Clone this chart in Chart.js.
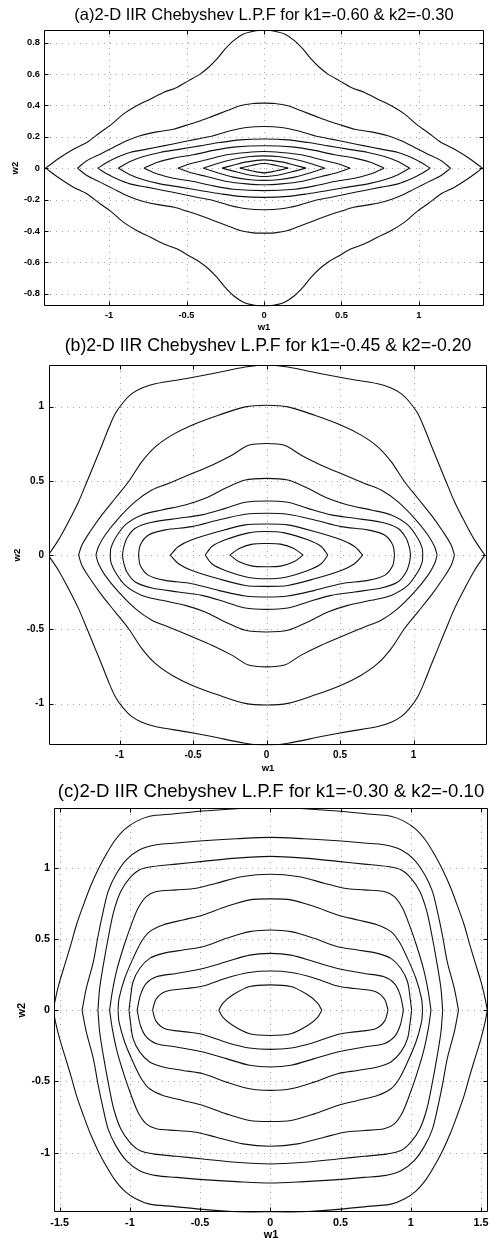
<!DOCTYPE html>
<html>
<head>
<meta charset="utf-8">
<script src="https://cdn.jsdelivr.net/npm/chart.js@4.4.1/dist/chart.umd.min.js"></script>
<style>
  html, body { margin: 0; padding: 0; background: #fff; }
  body { width: 490px; height: 1243px; position: relative; overflow: hidden; }
  canvas { position: absolute; left: 0; }
</style>
</head>
<body>
<canvas id="plotA"></canvas>
<canvas id="plotB"></canvas>
<canvas id="plotC"></canvas>
<script>
// ─── Data ──────────────────────────────────────────────────────────────────────
// Each contour is stored as its upper-left quadrant, from the w1 crossing (-a, 0)
// up to the w2 crossing (0, b). The filter response is symmetric in w1 and w2,
// so the other three quadrants are reflections of these points.

const titleA = '(a)2-D IIR Chebyshev L.P.F for k1=-0.60 & k2=-0.30';
const xRangeA = [-1.42, 1.42];
const yRangeA = [-0.88, 0.88];
const xTicksA = [-1, -0.5, 0, 0.5, 1];
const xTickLabelsA = ['-1', '-0.5', '0', '0.5', '1'];
const yTicksA = [-0.8, -0.6, -0.4, -0.2, 0, 0.2, 0.4, 0.6, 0.8];
const yTickLabelsA = ['-0.8', '-0.6', '-0.4', '-0.2', '0', '0.2', '0.4', '0.6', '0.8'];
const contoursA = [
  [[-1.41,0],[-1.316,0.068],[-1.23,0.121],[-1.144,0.163],[-1.058,0.227],[-0.983,0.28],[-0.908,0.344],[-0.822,0.397],[-0.735,0.439],[-0.649,0.482],[-0.563,0.514],[-0.488,0.556],[-0.413,0.599],[-0.359,0.641],[-0.305,0.694],[-0.252,0.758],[-0.198,0.811],[-0.133,0.854],[-0.069,0.872],[0,0.88]],
  [[-1.204,0],[-1.144,0.047],[-1.058,0.089],[-0.972,0.132],[-0.886,0.174],[-0.8,0.206],[-0.692,0.231],[-0.585,0.248],[-0.499,0.274],[-0.413,0.301],[-0.327,0.333],[-0.241,0.365],[-0.155,0.397],[-0.069,0.412],[0,0.414]],
  [[-1.073,0],[-1.015,0.036],[-0.951,0.068],[-0.865,0.1],[-0.757,0.121],[-0.649,0.142],[-0.542,0.163],[-0.434,0.185],[-0.327,0.206],[-0.219,0.238],[-0.112,0.259],[0,0.265]],
  [[-0.94,0],[-0.865,0.042],[-0.778,0.074],[-0.671,0.1],[-0.542,0.121],[-0.413,0.142],[-0.284,0.163],[-0.155,0.18],[0,0.186]],
  [[-0.775,0],[-0.692,0.036],[-0.585,0.064],[-0.456,0.085],[-0.327,0.113],[-0.198,0.134],[0,0.143]],
  [[-0.555,0],[-0.477,0.028],[-0.37,0.053],[-0.241,0.085],[-0.112,0.1],[0,0.106]],
  [[-0.392,0],[-0.305,0.028],[-0.198,0.057],[-0.09,0.074],[0,0.078]],
  [[-0.27,0],[-0.198,0.019],[-0.112,0.04],[0,0.053]],
  [[-0.156,0],[-0.08,0.017],[0,0.03]]
];

const titleB = '(b)2-D IIR Chebyshev L.P.F for k1=-0.45 & k2=-0.20';
const xRangeB = [-1.48, 1.5];
const yRangeB = [-1.28, 1.28];
const xTicksB = [-1, -0.5, 0, 0.5, 1];
const xTickLabelsB = ['-1', '-0.5', '0', '0.5', '1'];
const yTicksB = [-1, -0.5, 0, 0.5, 1];
const yTickLabelsB = ['-1', '-0.5', '0', '0.5', '1'];
const contoursB = [
  [[-1.485,0],[-1.415,0.103],[-1.347,0.226],[-1.279,0.36],[-1.222,0.494],[-1.166,0.629],[-1.12,0.74],[-1.075,0.852],[-1.029,0.953],[-0.973,1.031],[-0.916,1.087],[-0.848,1.125],[-0.757,1.154],[-0.553,1.188],[-0.372,1.221],[-0.145,1.266],[0,1.28]],
  [[-1.279,0],[-1.256,0.069],[-1.2,0.159],[-1.12,0.271],[-1.029,0.383],[-0.939,0.494],[-0.848,0.629],[-0.757,0.729],[-0.644,0.808],[-0.508,0.875],[-0.327,0.942],[-0.145,0.998],[0,1.009]],
  [[-1.161,0],[-1.143,0.058],[-1.098,0.136],[-1.007,0.248],[-0.893,0.36],[-0.78,0.438],[-0.667,0.483],[-0.531,0.539],[-0.372,0.606],[-0.236,0.673],[-0.122,0.74],[0,0.752]],
  [[-1.063,0],[-1.059,0.047],[-1.029,0.114],[-0.961,0.204],[-0.848,0.271],[-0.712,0.304],[-0.553,0.338],[-0.417,0.383],[-0.281,0.45],[-0.145,0.506],[0,0.517]],
  [[-0.98,0],[-0.973,0.047],[-0.95,0.114],[-0.893,0.181],[-0.78,0.221],[-0.599,0.248],[-0.44,0.271],[-0.281,0.315],[-0.145,0.356],[0,0.365]],
  [[-0.871,0],[-0.859,0.069],[-0.803,0.136],[-0.689,0.17],[-0.508,0.192],[-0.327,0.237],[-0.145,0.275],[0,0.282]],
  [[-0.655,0],[-0.599,0.058],[-0.508,0.103],[-0.327,0.159],[-0.145,0.204],[0,0.21]],
  [[-0.417,0],[-0.372,0.058],[-0.281,0.103],[-0.122,0.15],[0,0.159]],
  [[-0.249,0],[-0.186,0.045],[-0.095,0.074],[0,0.078]]
];

const titleC = '(c)2-D IIR Chebyshev L.P.F for k1=-0.30 & k2=-0.10';
const xRangeC = [-1.54, 1.55];
const yRangeC = [-1.42, 1.42];
const xTicksC = [-1.5, -1, -0.5, 0, 0.5, 1, 1.5];
const xTickLabelsC = ['-1.5', '-1', '-0.5', '0', '0.5', '1', '1.5'];
const yTicksC = [-1, -0.5, 0, 0.5, 1];
const yTickLabelsC = ['-1', '-0.5', '0', '0.5', '1'];
const contoursC = [
  [[-1.545,0],[-1.53,0.08],[-1.5,0.2],[-1.46,0.33],[-1.42,0.46],[-1.38,0.6],[-1.33,0.74],[-1.28,0.87],[-1.225,0.99],[-1.165,1.1],[-1.108,1.19],[-1.037,1.27],[-0.954,1.326],[-0.859,1.362],[-0.693,1.378],[-0.503,1.397],[-0.242,1.415],[0,1.425]],
  [[-1.34,0],[-1.31,0.153],[-1.26,0.34],[-1.225,0.528],[-1.19,0.692],[-1.155,0.833],[-1.1,0.951],[-1.025,1.056],[-0.93,1.127],[-0.811,1.162],[-0.669,1.174],[-0.479,1.19],[-0.242,1.204],[0,1.214]],
  [[-1.227,0],[-1.215,0.153],[-1.185,0.34],[-1.15,0.528],[-1.115,0.692],[-1.065,0.833],[-1.001,0.927],[-0.93,0.986],[-0.835,1.009],[-0.669,1.026],[-0.479,1.045],[-0.242,1.068],[0,1.08]],
  [[-1.144,0],[-1.125,0.129],[-1.09,0.293],[-1.04,0.458],[-0.99,0.599],[-0.942,0.716],[-0.883,0.798],[-0.811,0.833],[-0.669,0.845],[-0.527,0.857],[-0.384,0.892],[-0.195,0.939],[0,0.955]],
  [[-1.084,0],[-1.077,0.082],[-1.037,0.223],[-0.977,0.364],[-0.918,0.481],[-0.859,0.552],[-0.764,0.599],[-0.622,0.634],[-0.479,0.669],[-0.313,0.728],[-0.147,0.775],[0,0.782]],
  [[-1.006,0],[-0.996,0.082],[-0.977,0.2],[-0.93,0.293],[-0.859,0.364],[-0.764,0.399],[-0.622,0.423],[-0.479,0.446],[-0.313,0.505],[-0.147,0.552],[0,0.563]],
  [[-0.948,0],[-0.925,0.106],[-0.883,0.188],[-0.811,0.235],[-0.669,0.258],[-0.479,0.293],[-0.313,0.34],[-0.147,0.387],[0,0.399]],
  [[-0.838,0],[-0.815,0.075],[-0.75,0.13],[-0.6,0.152],[-0.48,0.17],[-0.3,0.23],[-0.15,0.265],[0,0.275]],
  [[-0.367,0],[-0.337,0.05],[-0.266,0.108],[-0.147,0.166],[0,0.178]]
];

// ─── Layout (page pixels) ──────────────────────────────────────────────────────
const FONT = 'Arial, "Liberation Sans", Helvetica, sans-serif';

const panels = [
  { id: 'plotA', title: titleA, xRange: xRangeA, yRange: yRangeA,
    xTicks: xTicksA, xTickLabels: xTickLabelsA, yTicks: yTicksA, yTickLabels: yTickLabelsA, contours: contoursA,
    left: 44, right: 484, top: 30, bottom: 306, titleY: 16, titleSize: 16.5,
    tickSize: 9.3, labelSize: 9.5, xTickPad: 3.5, yTickPad: 4, xLabelY: 327, yLabelX: 15 },
  { id: 'plotB', title: titleB, xRange: xRangeB, yRange: yRangeB,
    xTicks: xTicksB, xTickLabels: xTickLabelsB, yTicks: yTicksB, yTickLabels: yTickLabelsB, contours: contoursB,
    left: 49, right: 487, top: 365, bottom: 745, titleY: 346, titleSize: 17.7,
    tickSize: 10, labelSize: 9.5, xTickPad: 4, yTickPad: 5, xLabelY: 768, yLabelX: 17 },
  { id: 'plotC', title: titleC, xRange: xRangeC, yRange: yRangeC,
    xTicks: xTicksC, xTickLabels: xTickLabelsC, yTicks: yTicksC, yTickLabels: yTickLabelsC, contours: contoursC,
    left: 54, right: 488, top: 808, bottom: 1212, titleY: 792, titleSize: 18.6,
    tickSize: 10.8, labelSize: 11, xTickPad: 4.5, yTickPad: 4, xLabelY: 1235, yLabelX: 22 }
];

// ─── Helpers ───────────────────────────────────────────────────────────────────
// upper half = quadrant + its reflection in w1; lower half = reflection in w2
function halves(q) {
  const upper = q.concat(q.slice(0, -1).reverse().map(([x, y]) => [-x, y]));
  const lower = upper.map(([x, y]) => [x, -y]);
  return [upper, lower];
}

// dotted grid under the contours, box and inward ticks on top (MATLAB style)
const frame = {
  id: 'frame',
  beforeDatasetsDraw(chart) {
    const { ctx, chartArea: a, scales: { x, y } } = chart;
    ctx.save();
    ctx.strokeStyle = '#a4a4a4';
    ctx.lineWidth = 1;
    ctx.setLineDash([1, 5]);
    ctx.beginPath();
    x.ticks.forEach(t => {
      const px = Math.round(x.getPixelForValue(t.value)) + 0.5;
      ctx.moveTo(px, a.top); ctx.lineTo(px, a.bottom);
    });
    y.ticks.forEach(t => {
      const py = Math.round(y.getPixelForValue(t.value)) + 0.5;
      ctx.moveTo(a.left, py); ctx.lineTo(a.right, py);
    });
    ctx.stroke();
    ctx.restore();
  },
  afterDatasetsDraw(chart) {
    const { ctx, chartArea: a, scales: { x, y } } = chart;
    const l = Math.round(a.left) + 0.5, r = Math.round(a.right) - 0.5;
    const t = Math.round(a.top) + 0.5, b = Math.round(a.bottom) - 0.5;
    const len = 4;
    ctx.save();
    ctx.strokeStyle = '#000';
    ctx.lineWidth = 1;
    ctx.beginPath();
    ctx.rect(l, t, r - l, b - t);
    x.ticks.forEach(tk => {
      const px = Math.round(x.getPixelForValue(tk.value)) + 0.5;
      ctx.moveTo(px, b); ctx.lineTo(px, b - len);
      ctx.moveTo(px, t); ctx.lineTo(px, t + len);
    });
    y.ticks.forEach(tk => {
      const py = Math.round(y.getPixelForValue(tk.value)) + 0.5;
      ctx.moveTo(l, py); ctx.lineTo(l + len, py);
      ctx.moveTo(r, py); ctx.lineTo(r - len, py);
    });
    ctx.stroke();
    ctx.restore();
  }
};

// ─── Build each panel ──────────────────────────────────────────────────────────
panels.forEach(p => {
  const canvas = document.getElementById(p.id);
  const titleLH = p.titleSize * 1.2;
  const labelLH = p.labelSize * 1.2;
  const canvasTop = Math.round(p.titleY - titleLH / 2);
  const titleGap = p.top - canvasTop - titleLH;
  const xAxisH = p.xLabelY + labelLH / 2 - p.bottom;
  const canvasH = Math.ceil(p.bottom + xAxisH) - canvasTop;

  canvas.style.top = canvasTop + 'px';
  canvas.width = 490;
  canvas.height = canvasH;

  const datasets = [];
  p.contours.forEach(q => {
    halves(q).forEach(h => {
      datasets.push({
        data: h.map(([x, y]) => ({ x, y })),
        showLine: true,
        borderColor: '#111',
        borderWidth: 1.1,
        pointRadius: 0,
        tension: 0.3,
        fill: false
      });
    });
  });

  const tickFont = { family: FONT, size: p.tickSize, weight: 'bold', lineHeight: 1.2 };
  const labelFont = { family: FONT, size: p.labelSize, weight: 'bold', lineHeight: 1.2 };

  new Chart(canvas, {
    type: 'scatter',
    data: { datasets },
    options: {
      responsive: false,
      animation: false,
      events: [],
      layout: { padding: { left: 0, right: 490 - p.right, top: 0, bottom: 0 } },
      plugins: {
        legend: { display: false },
        tooltip: { enabled: false },
        title: {
          display: true,
          text: p.title,
          fullSize: false,
          color: '#000',
          font: { family: FONT, size: p.titleSize, weight: 'normal', lineHeight: 1.2 },
          padding: { top: 0, bottom: titleGap }
        }
      },
      scales: {
        x: {
          type: 'linear',
          min: p.xRange[0],
          max: p.xRange[1],
          grid: { display: false, drawTicks: false },
          border: { display: false },
          ticks: {
            autoSkip: false, maxRotation: 0, minRotation: 0,
            padding: p.xTickPad, color: '#000', font: tickFont,
            callback: (v, i) => p.xTickLabels[i]
          },
          title: { display: true, text: 'w1', color: '#000', font: labelFont, padding: { top: 0, bottom: 0 } },
          afterBuildTicks: s => { s.ticks = p.xTicks.map(v => ({ value: v })); },
          afterFit: s => { s.height = xAxisH; s.paddingLeft = 0; s.paddingRight = 0; }
        },
        y: {
          type: 'linear',
          min: p.yRange[0],
          max: p.yRange[1],
          grid: { display: false, drawTicks: false },
          border: { display: false },
          ticks: {
            autoSkip: false,
            padding: p.yTickPad, color: '#000', font: tickFont,
            callback: (v, i) => p.yTickLabels[i]
          },
          title: { display: true, text: 'w2', color: '#000', font: labelFont, padding: { top: p.yLabelX - labelLH / 2, bottom: 0 } },
          afterBuildTicks: s => { s.ticks = p.yTicks.map(v => ({ value: v })); },
          afterFit: s => { s.width = p.left; s.paddingTop = 0; s.paddingBottom = 0; }
        }
      }
    },
    plugins: [frame]
  });
});
</script>
</body>
</html>
